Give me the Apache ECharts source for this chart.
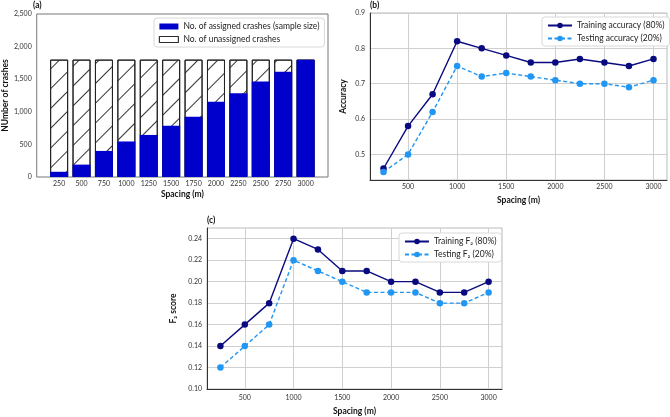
<!DOCTYPE html>
<html><head><meta charset="utf-8">
<script src="https://cdn.jsdelivr.net/npm/echarts/dist/echarts.min.js"></script>
<style>html,body{margin:0;padding:0;background:#fff}#c{width:670px;height:417px}</style>
</head><body><div id="c"></div>
<script>
// ---- data ----
const spacing = [250, 500, 750, 1000, 1250, 1500, 1750, 2000, 2250, 2500, 2750, 3000];
const assignedCrashes = [80, 190, 400, 545, 645, 785, 925, 1155, 1285, 1465, 1615, 1800];
const unassignedCrashes = [1720, 1610, 1400, 1255, 1155, 1015, 875, 645, 515, 335, 185, 0];
const trainAccuracy = [0.46, 0.58, 0.67, 0.82, 0.80, 0.78, 0.76, 0.76, 0.77, 0.76, 0.75, 0.77];
const testAccuracy = [0.45, 0.50, 0.62, 0.75, 0.72, 0.73, 0.72, 0.71, 0.70, 0.70, 0.69, 0.71];
const trainF2 = [0.14, 0.16, 0.18, 0.24, 0.23, 0.21, 0.21, 0.20, 0.20, 0.19, 0.19, 0.20];
const testF2 = [0.12, 0.14, 0.16, 0.22, 0.21, 0.20, 0.19, 0.19, 0.19, 0.18, 0.18, 0.19];
const crashTicks = [0, 500, 1000, 1500, 2000, 2500];
const spacingTicks = [500, 1000, 1500, 2000, 2500, 3000];
const accuracyTicks = [0.5, 0.6, 0.7, 0.8, 0.9];
const f2Ticks = [0.10, 0.12, 0.14, 0.16, 0.18, 0.20, 0.22, 0.24];

const FONT = 'Lato';
const tick = {fontSize: 7, color: '#333', fontFamily: FONT};
const nameStyle = {fontSize: 8.5, fontWeight: 'bold', color: '#111', fontFamily: FONT};
const NAVY = '#0a0a80', LIGHT = '#2196f3', BLUE = '#0000cd';

function lineX(idx, gap, margin) {
  return {
    type: 'value', gridIndex: idx, min: 112.5, max: 3137.5,
    name: 'Spacing (m)', nameLocation: 'middle', nameGap: gap, nameTextStyle: nameStyle,
    axisLine: {show: true, lineStyle: {color: '#333', width: 1}},
    axisTick: {show: false, customValues: spacingTicks},
    axisLabel: Object.assign({customValues: spacingTicks, margin: margin, formatter: v => String(v)}, tick),
    splitLine: {show: true, lineStyle: {color: '#cfcfcf', width: 1}}
  };
}
function lineY(idx, min, max, ticks, dec, name, gap) {
  return {
    type: 'value', gridIndex: idx, min: min, max: max,
    name: name, nameLocation: 'middle', nameGap: gap, nameRotate: 90, nameTextStyle: nameStyle,
    axisLine: {show: true, lineStyle: {color: '#333', width: 1}},
    axisTick: {show: false, customValues: ticks},
    axisLabel: Object.assign({customValues: ticks, margin: 5, formatter: v => v.toFixed(dec)}, tick),
    splitLine: {show: true, lineStyle: {color: '#cfcfcf', width: 1}}
  };
}
function lineSeries(name, data, xi, color, dashed) {
  return {
    name: name, type: 'line', xAxisIndex: xi, yAxisIndex: xi,
    data: data.map((v, i) => [spacing[i], v]),
    symbol: 'circle', symbolSize: 6.5, color: color,
    lineStyle: {color: color, width: 1.4, type: dashed ? [4, 2.5] : 'solid'},
    itemStyle: {color: color}, emphasis: {disabled: true}, animation: false
  };
}
const legendBase = {
  orient: 'vertical', backgroundColor: '#fff', borderColor: '#d8d8d8', borderWidth: 1,
  borderRadius: 3, padding: [4, 5, 3, 5], itemGap: 4,
  textStyle: {fontSize: 8.5, color: '#222', fontFamily: FONT}
};

const chart = echarts.init(document.getElementById('c'), null, {renderer: 'canvas'});
chart.setOption({
  animation: false,
  title: [
    {text: '(a)', left: 33, top: 1, padding: 0, textStyle: {fontSize: 8.5, fontWeight: 'bold', fontFamily: FONT, color: '#111'}},
    {text: '(b)', left: 370, top: 1, padding: 0, textStyle: {fontSize: 8.5, fontWeight: 'bold', fontFamily: FONT, color: '#111'}},
    {text: '(c)', left: 207, top: 216, padding: 0, textStyle: {fontSize: 8.5, fontWeight: 'bold', fontFamily: FONT, color: '#111'}}
  ],
  grid: [
    {left: 33, top: 14, width: 295, height: 163, show: true, borderColor: '#777', borderWidth: 1},
    {left: 370, top: 13, width: 297, height: 167, show: true, borderColor: '#bbb', borderWidth: 1},
    {left: 207, top: 228, width: 295, height: 164, show: true, borderColor: '#bbb', borderWidth: 1}
  ],
  legend: [
    Object.assign({}, legendBase, {left: 154, top: 18, itemWidth: 19, itemHeight: 6, icon: 'rect',
      data: [
        {name: 'No. of assigned crashes (sample size)'},
        {name: 'No. of unassigned crashes', itemStyle: {color: '#fff', borderColor: '#222', borderWidth: 0.8,
          decal: {symbol: 'rect', symbolSize: 1, color: '#333', dashArrayX: [1, 0], dashArrayY: [1, 30], rotation: -Math.PI / 4}}}
      ]}),
    Object.assign({}, legendBase, {left: 542, top: 17, itemWidth: 24, itemHeight: 7,
      data: ['Training accuracy (80%)', 'Testing accuracy (20%)']}),
    Object.assign({}, legendBase, {left: 399, top: 233, itemWidth: 24, itemHeight: 7,
      data: ['Training F₂ (80%)', 'Testing F₂ (20%)']})
  ],
  xAxis: [
    {
      type: 'value', gridIndex: 0, min: -1, max: 12, interval: 1,
      name: 'Spacing (m)', nameLocation: 'middle', nameGap: 13, nameTextStyle: nameStyle,
      axisLine: {show: false}, axisTick: {show: false},
      axisLabel: Object.assign({margin: 3, formatter: v => (spacing[v] !== undefined ? String(spacing[v]) : '')}, tick),
      splitLine: {show: false}
    },
    lineX(1, 16, 3),
    lineX(2, 18, 5)
  ],
  yAxis: [
    {
      type: 'value', gridIndex: 0, min: 0, max: 2500, interval: 500,
      name: 'NUmber of crashes', nameLocation: 'middle', nameGap: 26, nameRotate: 90, nameTextStyle: nameStyle,
      axisLine: {show: false}, axisTick: {show: false},
      axisLabel: Object.assign({margin: 5}, tick),
      splitLine: {show: false}
    },
    lineY(1, 0.4275, 0.9, accuracyTicks, 1, 'Accuracy', 22),
    lineY(2, 0.10, 0.25, f2Ticks, 2, 'F₂ score', 29)
  ],
  series: [
    {
      // full bar = assigned + unassigned; the hatched part shows above the assigned bar
      name: 'No. of unassigned crashes', type: 'bar', xAxisIndex: 0, yAxisIndex: 0,
      barWidth: 18, barGap: '-100%', z: 2,
      data: unassignedCrashes.map((v, i) => [i, assignedCrashes[i] + v]),
      itemStyle: {
        color: '#fff', borderColor: '#222', borderWidth: 1,
        decal: {symbol: 'rect', symbolSize: 1, color: '#333', dashArrayX: [1, 0], dashArrayY: [1, 13], rotation: -Math.PI / 4}
      },
      emphasis: {disabled: true}
    },
    {
      name: 'No. of assigned crashes (sample size)', type: 'bar', xAxisIndex: 0, yAxisIndex: 0,
      barWidth: 18, barGap: '-100%', z: 3,
      data: assignedCrashes.map((v, i) => [i, v]),
      itemStyle: {color: BLUE}, emphasis: {disabled: true}
    },
    lineSeries('Training accuracy (80%)', trainAccuracy, 1, NAVY, false),
    lineSeries('Testing accuracy (20%)', testAccuracy, 1, LIGHT, true),
    lineSeries('Training F₂ (80%)', trainF2, 2, NAVY, false),
    lineSeries('Testing F₂ (20%)', testF2, 2, LIGHT, true)
  ]
});
</script>
</body></html>
